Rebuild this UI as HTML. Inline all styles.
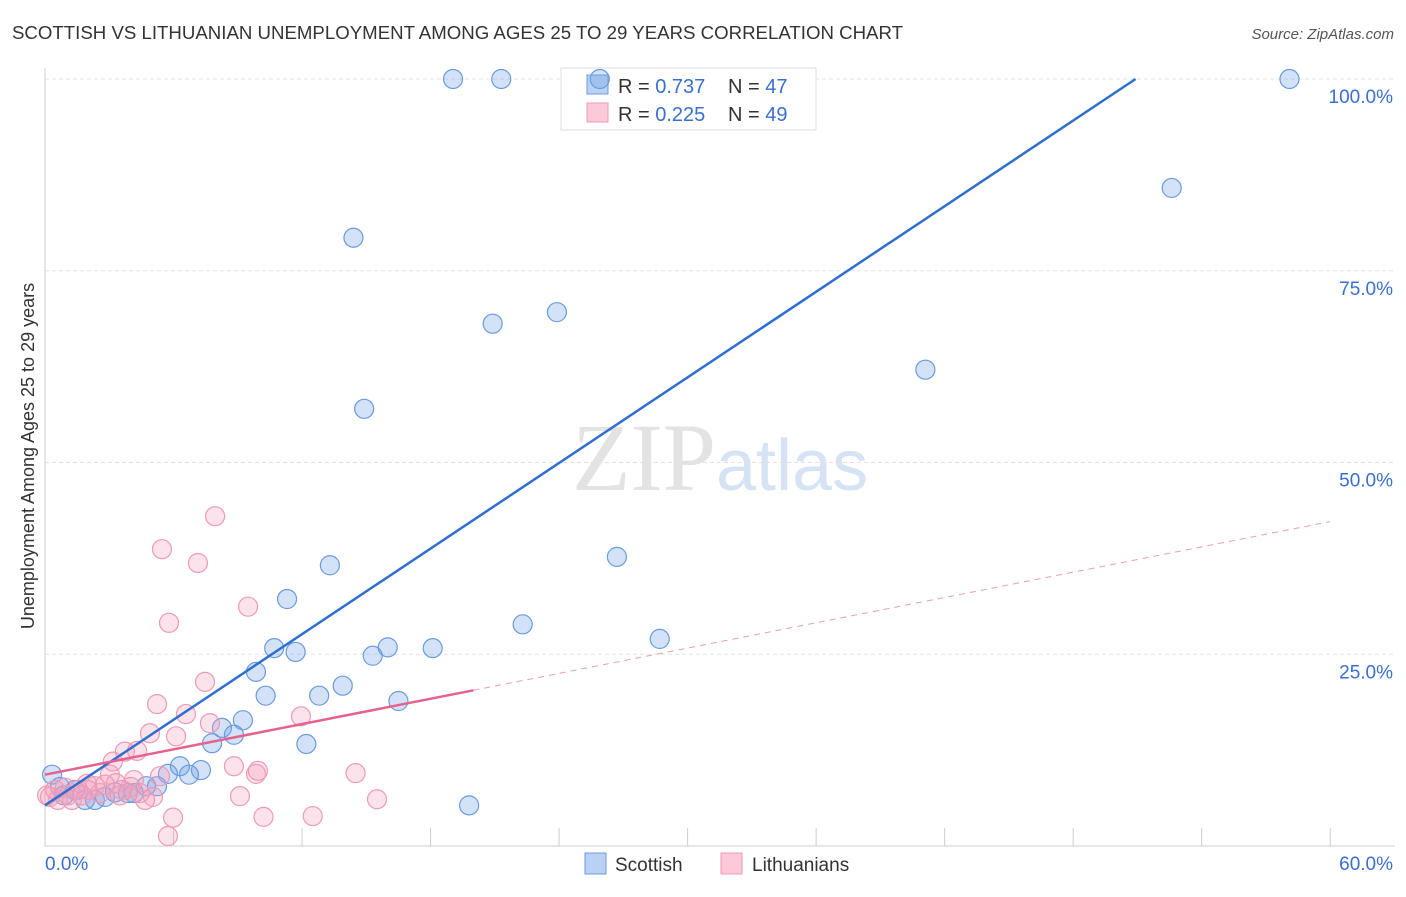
<!DOCTYPE html>
<html><head><meta charset="utf-8"><style>
body{margin:0;background:#fff;font-family:"Liberation Sans",sans-serif}
</style></head><body>
<svg id="c" width="1406" height="892" xmlns="http://www.w3.org/2000/svg">
<text x="12" y="39" font-size="18" fill="#333" textLength="891" lengthAdjust="spacingAndGlyphs">SCOTTISH VS LITHUANIAN UNEMPLOYMENT AMONG AGES 25 TO 29 YEARS CORRELATION CHART</text>
<text x="1394" y="39" font-size="15" fill="#555" font-style="italic" text-anchor="end">Source: ZipAtlas.com</text>
<text x="716" y="490" font-size="96" fill="#e3e3e3" text-anchor="end" font-family="Liberation Serif,serif">ZIP</text>
<text x="716" y="490" font-size="72" fill="#d6e3f5">atlas</text>
<text transform="translate(34,456) rotate(-90)" font-size="18" fill="#333" text-anchor="middle">Unemployment Among Ages 25 to 29 years</text>
<g id="grid"></g>
<g>
<rect x="561" y="68" width="255" height="62" fill="#fff" stroke="#ddd"/>
<rect x="587" y="75" width="21" height="19" fill="#b9d2f3" stroke="#6a9be0"/>
<rect x="587" y="103" width="21" height="19" fill="#fbc9d8" stroke="#ee9ab5"/>
<text x="618" y="93" font-size="20" fill="#333">R = <tspan fill="#3a6fd0">0.737</tspan></text>
<text x="728" y="93" font-size="20" fill="#333">N = <tspan fill="#3a6fd0">47</tspan></text>
<text x="618" y="121" font-size="20" fill="#333">R = <tspan fill="#3a6fd0">0.225</tspan></text>
<text x="728" y="121" font-size="20" fill="#333">N = <tspan fill="#3a6fd0">49</tspan></text>
</g>
<g id="pts"></g><g id="lines"></g>
<g>
<rect x="585" y="853" width="21" height="21" fill="#b9d2f3" stroke="#6a9be0"/>
<text x="615" y="871" font-size="19" fill="#333">Scottish</text>
<rect x="721" y="853" width="21" height="21" fill="#fbc9d8" stroke="#ee9ab5"/>
<text x="752" y="871" font-size="19" fill="#333">Lithuanians</text>
</g>
</svg>
<script>
const blueX=[19.05,21.3,25.9,58.1,52.6,14.4,20.9,23.9,41.1,14.9,26.7,13.3,11.3,22.3,28.7,10.7,11.7,16.0,15.3,18.1,9.85,13.9,10.3,12.8,16.5,9.24,8.26,8.82,7.8,12.2,6.3,7.28,6.72,5.74,4.72,5.23,19.8,0.33,0.7,1.4,1.87,2.33,2.8,3.27,3.87,4.15,0.89];
const blueY=[100,100,100,100,85.8,79.3,68.1,69.6,62.1,57.0,37.7,36.6,32.2,28.9,27.0,25.8,25.3,25.9,24.8,25.8,22.7,20.9,19.6,19.6,18.9,16.4,15.4,14.5,13.4,13.3,10.4,9.9,9.3,9.4,7.8,7.8,5.3,9.3,7.7,7.3,6.0,6.0,6.4,7.0,6.9,6.9,6.6];
const pinkX=[7.94,5.46,7.14,9.48,5.79,7.47,5.23,6.58,11.95,7.7,4.9,6.12,3.73,4.3,3.17,8.82,9.85,9.94,14.5,3.03,5.37,4.15,3.31,4.0,2.33,1.96,9.1,5.04,4.67,15.5,5.98,10.2,12.5,5.74,0.47,0.23,0.6,1.07,1.54,2.57,3.6,4.43,0.93,2.0,2.8,3.5,0.1,1.26,1.73];
const pinkY=[43.0,38.7,36.9,31.2,29.1,21.4,18.5,17.2,16.9,16.0,14.7,14.3,12.3,12.4,11.0,10.4,9.4,9.8,9.5,9.3,9.1,8.6,8.2,7.7,7.8,8.1,6.5,6.4,6.0,6.1,3.7,3.8,3.9,1.3,7.3,6.4,6.0,6.6,7.3,6.9,7.3,6.9,7.6,7.3,8.0,6.6,6.6,6.0,6.6];
const yTicks=[25,50,75,100];
const yTickLabels=["25.0%","50.0%","75.0%","100.0%"];
const blueFit=[5.3,1.86];
const pinkFit=[9.3,0.55];
const X=v=>45+v*21.42, Y=v=>846-v*7.67;
const NS="http://www.w3.org/2000/svg";
function mk(p,t,a){const e=document.createElementNS(NS,t);for(const k in a)e.setAttribute(k,a[k]);p.appendChild(e);return e;}
const g=document.getElementById('grid');
mk(g,'line',{x1:45,y1:68,x2:45,y2:846,stroke:'#ccc'});
mk(g,'line',{x1:45,y1:846,x2:1395,y2:846,stroke:'#ccc'});
for(let i=0;i<=10;i++){mk(g,'line',{x1:X(i*6),y1:828,x2:X(i*6),y2:846,stroke:'#ccc'});}
yTicks.forEach((v,i)=>{
 const l=mk(g,'line',{x1:45,y1:Y(v),x2:1395,y2:Y(v),stroke:'#e2e2e2','stroke-dasharray':'4,3'});
 
 
 const t=mk(g,'text',{x:1393,y:Y(v)+24,'font-size':19,fill:'#3a6fd0','text-anchor':'end'});t.textContent=yTickLabels[i];
 
 
});
let t0=mk(g,'text',{x:45,y:870,'font-size':19,fill:'#3a6fd0'});t0.textContent="0.0%";


let t1=mk(g,'text',{x:1393,y:870,'font-size':19,fill:'#3a6fd0','text-anchor':'end'});t1.textContent="60.0%";


const p=document.getElementById('pts');
blueX.forEach((x,i)=>{const c=mk(p,'circle',{cx:X(x),cy:Y(blueY[i]),r:9.5,fill:'rgba(110,160,230,0.3)',stroke:'#6a9be0','stroke-width':1.2});
 
 });
pinkX.forEach((x,i)=>{const c=mk(p,'circle',{cx:X(x),cy:Y(pinkY[i]),r:9.5,fill:'rgba(245,160,190,0.3)',stroke:'#ee9ab5','stroke-width':1.2});
 
 });
const L=document.getElementById('lines');
const bxEnd=(100-blueFit[0])/blueFit[1];
let bl=mk(L,'line',{x1:X(0),y1:Y(blueFit[0]),x2:X(bxEnd),y2:Y(100),stroke:'#2f6fd0','stroke-width':2.5});


let pl=mk(L,'line',{x1:X(0),y1:Y(pinkFit[0]),x2:X(20),y2:Y(pinkFit[0]+pinkFit[1]*20),stroke:'#e6628e','stroke-width':2.5});


let pd=mk(L,'line',{x1:X(20),y1:Y(pinkFit[0]+pinkFit[1]*20),x2:X(60),y2:Y(pinkFit[0]+pinkFit[1]*60),stroke:'#e6a0b8','stroke-width':1,'stroke-dasharray':'6,5'});


</script>
</body></html>
